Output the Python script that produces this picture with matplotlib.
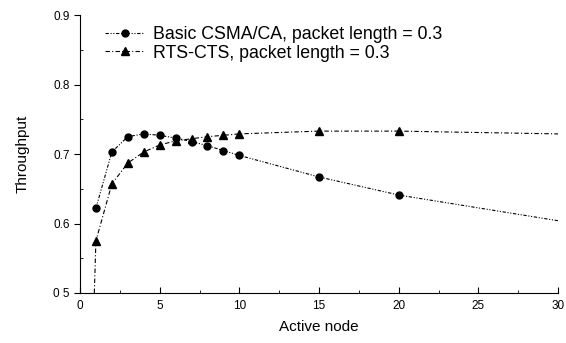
import matplotlib
matplotlib.use("Agg")
import matplotlib.pyplot as plt
from matplotlib.ticker import MultipleLocator

plt.rcParams['font.family'] = ['Liberation Sans', 'DejaVu Sans']

# Basic CSMA/CA
basic_x = [1, 2, 3, 4, 5, 6, 7, 8, 9, 10, 15, 20, 30]
basic_y = [0.622, 0.703, 0.725, 0.729, 0.727, 0.723, 0.718, 0.712, 0.705, 0.698, 0.667, 0.641, 0.604]
basic_marked = list(range(12))

# RTS-CTS (line begins at the axis floor just left of x=1)
rts_x = [0.9, 1, 2, 3, 4, 5, 6, 7, 8, 9, 10, 15, 20, 30]
rts_y = [0.5, 0.575, 0.657, 0.687, 0.703, 0.713, 0.719, 0.722, 0.725, 0.727, 0.729, 0.733, 0.733, 0.729]
rts_marked = list(range(1, 13))

xticks = [0, 5, 10, 15, 20, 25, 30]
yticks = [0.5, 0.6, 0.7, 0.8, 0.9]
ytick_labels = ['0 5', '0.6', '0.7', '0.8', '0.9']

fig = plt.figure(figsize=(5.66, 3.43), dpi=100)
ax = fig.add_axes([0.1413, 0.1458, 0.8447, 0.8102])

ax.plot(basic_x, basic_y, color='black', lw=0.8, linestyle=(0, (3, 1.5, 1, 1.5, 1, 1.5)),
        marker='o', markersize=5, markevery=basic_marked,
        label='Basic CSMA/CA, packet length = 0.3')
ax.plot(rts_x, rts_y, color='black', lw=0.8, linestyle=(0, (4, 2, 1, 2)),
        marker='^', markersize=5.5, markevery=rts_marked,
        label='RTS-CTS, packet length = 0.3')

ax.set_xlim(0, 30)
ax.set_ylim(0.5, 0.9)
ax.set_xticks(xticks)
ax.set_yticks(yticks)
ax.set_yticklabels(ytick_labels)
ax.xaxis.set_minor_locator(MultipleLocator(2.5))
ax.yaxis.set_minor_locator(MultipleLocator(0.05))
ax.tick_params(axis='x', which='both', direction='in', labelsize=8.5, length=4, pad=5)
ax.tick_params(axis='x', which='minor', length=2.5)
ax.tick_params(axis='y', which='major', direction='out', labelsize=8.5, length=4)
ax.tick_params(axis='y', which='minor', direction='in', length=2.5)
for s in ['top', 'right']:
    ax.spines[s].set_visible(False)

ax.set_xlabel('Active node', fontsize=11, labelpad=6)
ax.set_ylabel('Throughput', fontsize=11, labelpad=17)

ax.legend(loc='upper left', frameon=False, fontsize=12.8, handlelength=2.2,
          handletextpad=0.5, borderaxespad=0.2, labelspacing=0.1,
          bbox_to_anchor=(0.03, 1.0))

fig.savefig('out.png', dpi=100)
